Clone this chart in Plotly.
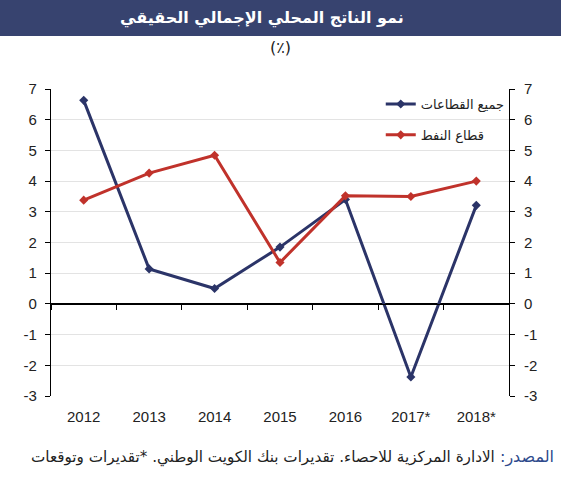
import plotly.graph_objects as go

years = ["2012", "2013", "2014", "2015", "2016", "2017*", "2018*"]
all_sectors = [6.63, 1.14, 0.50, 1.85, 3.40, -2.38, 3.21]
oil_sector = [3.38, 4.26, 4.84, 1.35, 3.52, 3.50, 4.00]
y_ticks = [-3, -2, -1, 0, 1, 2, 3, 4, 5, 6, 7]
y_tick_labels = ["-3", "-2", "-1", "0", "1", "2", "3", "4", "5", "6", "7"]

name_all = "جميع القطاعات"
name_oil = "قطاع النفط"
title_text = "نمو الناتج المحلي الإجمالي الحقيقي"
unit_text = "(٪)"
source_label = "المصدر:\u200f"
source_text = "الادارة المركزية للاحصاء. تقديرات بنك الكويت الوطني. *تقديرات وتوقعات"

BLUE = "#2B3468"
RED = "#C0322B"
BANNER = "#37436F"
AR_FONT = "DejaVu Sans, Liberation Sans, sans-serif"
NUM_FONT = "Liberation Sans, Arial, sans-serif"

fig = go.Figure()
fig.add_trace(go.Scatter(
    x=years, y=all_sectors, name=name_all, mode="lines+markers",
    line=dict(color=BLUE, width=3), marker=dict(symbol="diamond", size=7, color=BLUE),
    legendgroup="a", xaxis="x", yaxis="y"))
fig.add_trace(go.Scatter(
    x=years, y=oil_sector, name=name_oil, mode="lines+markers",
    line=dict(color=RED, width=3), marker=dict(symbol="diamond", size=7, color=RED),
    legendgroup="b", xaxis="x", yaxis="y"))
# helper invisible traces so that the label axis and right axis are drawn
fig.add_trace(go.Scatter(x=years, y=[None] * len(years), xaxis="x2", yaxis="y",
                         showlegend=False, hoverinfo="skip", mode="lines"))
fig.add_trace(go.Scatter(x=years, y=[None] * len(years), xaxis="x", yaxis="y2",
                         showlegend=False, hoverinfo="skip", mode="lines"))

yr = [-3, 7]
tickfont = dict(family=NUM_FONT, size=15, color="#222")
fig.update_layout(
    width=561, height=500,
    margin=dict(l=51, r=52, t=89, b=104),
    paper_bgcolor="white", plot_bgcolor="white",
    showlegend=True,
    legend=dict(x=0.72, y=1.0, xanchor="left", yanchor="top",
                font=dict(family=AR_FONT, size=13, color="#222"),
                tracegroupgap=11, bgcolor="rgba(0,0,0,0)"),
    xaxis=dict(type="category", categoryorder="array", categoryarray=years,
               range=[-0.5, 6.5], anchor="free", position=(0 - yr[0]) / (yr[1] - yr[0]),
               showline=True, linecolor="black", linewidth=1.2,
               ticks="outside", tickson="boundaries", ticklen=5, tickcolor="black",
               showticklabels=False, showgrid=False, zeroline=False),
    xaxis2=dict(type="category", categoryorder="array", categoryarray=years,
                range=[-0.5, 6.5], overlaying="x", anchor="y", side="bottom",
                showline=False, ticks="", showgrid=False, zeroline=False,
                ticklabelstandoff=10, tickfont=tickfont),
    yaxis=dict(range=yr, tickvals=y_ticks, ticktext=y_tick_labels,
               showline=True, linecolor="black", linewidth=1.2,
               ticks="outside", ticklen=5, tickcolor="black",
               gridcolor="#E3E3E3", gridwidth=1, zeroline=True, zerolinecolor="black",
               zerolinewidth=1.2, tickfont=tickfont, ticklabelstandoff=5),
    yaxis2=dict(range=yr, tickvals=y_ticks, ticktext=y_tick_labels,
                overlaying="y", side="right", anchor="x",
                showline=True, linecolor="black", linewidth=1.2,
                ticks="outside", ticklen=5, tickcolor="black", showgrid=False,
                zeroline=False, tickfont=tickfont, ticklabelstandoff=6),
    shapes=[dict(type="rect", xref="paper", yref="paper", x0=-0.2, x1=1.2,
                 y0=1 + (89 - 36) / 307, y1=1.5, fillcolor=BANNER, line=dict(width=0),
                 layer="below")],
    annotations=[
        dict(text="<b>" + title_text + "</b>", xref="paper", yref="paper",
             x=(262 - 51) / 458, y=1 + (89 - 18) / 307, xanchor="center", yanchor="middle",
             showarrow=False, font=dict(family=AR_FONT, size=16, color="white")),
        dict(text=unit_text, xref="paper", yref="paper",
             x=(280 - 51) / 458, y=1 + (89 - 48) / 307, xanchor="center", yanchor="middle",
             showarrow=False, font=dict(family=AR_FONT, size=16, color="#222")),
        dict(text=source_label, xref="paper", yref="paper",
             x=(556 - 51) / 458, y=-(457 - 396) / 307, xanchor="right", yanchor="middle",
             showarrow=False, font=dict(family=AR_FONT, size=16, color="#2E4A8C")),
        dict(text=source_text, xref="paper", yref="paper",
             x=(497 - 51) / 458, y=-(457 - 396) / 307, xanchor="right", yanchor="middle",
             showarrow=False, font=dict(family=AR_FONT, size=15.2, color="#222")),
    ],
)

fig.write_html("out.html", post_script="document.body.style.margin='0';",
               config={"displayModeBar": False})
